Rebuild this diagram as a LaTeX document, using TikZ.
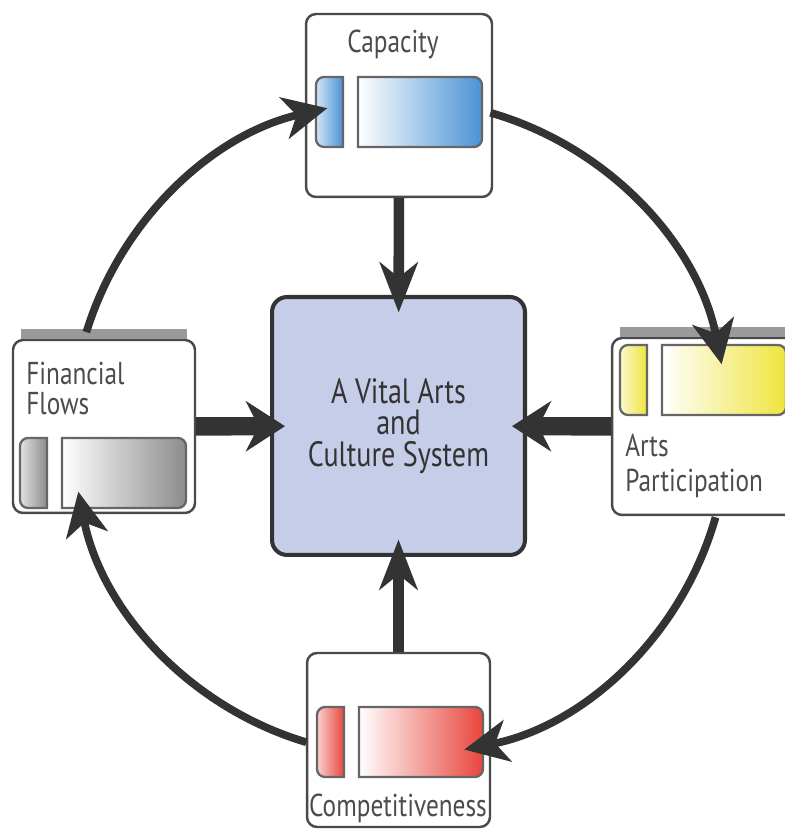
\documentclass[tikz,border=0pt]{standalone}
\usepackage{fontspec}
\usetikzlibrary{arrows.meta,calc}
\newfontfamily\labelfont[FakeStretch=0.8]{PT Sans}
\definecolor{ink}{HTML}{333333}
\definecolor{edge}{HTML}{4A4A4A}
\definecolor{band}{HTML}{9A9A9A}
\definecolor{hubfill}{HTML}{C6CDE8}
\definecolor{capblue}{HTML}{4A93D4}
\definecolor{partyellow}{HTML}{EEE43C}
\definecolor{compred}{HTML}{E8453C}
\definecolor{fingray}{HTML}{8C8C8C}
\tikzset{panel/.style={draw=edge,line width=1.4pt,rounded corners=.2cm,fill=white,inner sep=0pt},
hubbox/.style={draw=ink,line width=2.3pt,rounded corners=.3cm,fill=hubfill,inner sep=0pt,align=center,
  font=\labelfont\fontsize{20}{18}\selectfont,text=ink},
lab/.style={font=\labelfont\fontsize{18}{17}\selectfont,text=black!70,inner sep=0pt,align=left},
meterbar/.style={draw=black!60,line width=1.3pt},
topband/.style={band,line width=5.5pt},
vlink/.style={-{Stealth[length=1cm,width=.76cm,inset=.3cm]},line width=6pt,ink,shorten >=-.35cm},
hlink/.style={-{Stealth[length=.78cm,width=1cm,inset=.25cm]},line width=10.5pt,ink,shorten >=-.3cm},
roundarrow/.style={-{Stealth[length=.88cm,width=.84cm,inset=.25cm]},line width=4.4pt,ink}}
% two bars: short one rounded on the left, long one rounded on the right
\newcommand{\meter}[3]{%
\draw[meterbar,left color=#3!25,right color=#3] (#1+14,#2) [rounded corners=.16cm] -- (#1,#2) -- (#1,#2+70)
  -- (#1+14,#2+70) [sharp corners] -- (#1+27,#2+70) -- (#1+27,#2) -- cycle;
\draw[meterbar,left color=white,right color=#3] (#1+104,#2) [rounded corners=.16cm] -- (#1+166,#2) -- (#1+166,#2+70)
  -- (#1+104,#2+70) [sharp corners] -- (#1+42,#2+70) -- (#1+42,#2) -- cycle;}

\begin{document}
\begin{tikzpicture}[x=.02cm,y=.02cm]
\useasboundingbox[fill=white] (0,0) rectangle (784,831);
% the four outer panels and the hub
\node[panel,minimum width=3.72cm,minimum height=3.66cm] (cap) at (399,725.5) {};
\node[panel,minimum width=3.64cm,minimum height=3.46cm] (fin) at (104,404.5) {};
\node[panel,minimum width=3.68cm,minimum height=3.54cm] (arts) at (704,404.5) {};
\node[panel,minimum width=3.66cm,minimum height=3.48cm] (comp) at (398.5,91) {};
\draw[topband] ([xshift=.18cm,yshift=.1cm]fin.north west) -- ([xshift=-.18cm,yshift=.1cm]fin.north east);
\draw[topband] ([xshift=.18cm,yshift=.1cm]arts.north west) -- ([yshift=.1cm]arts.north east);
\node[hubbox,minimum width=5.06cm,minimum height=5.16cm] (vital) at (398.5,405) {A Vital Arts\\and\\Culture System};

\meter{316}{684}{capblue}
\meter{20}{323}{fingray}
\meter{620}{416}{partyellow}
\meter{317}{54}{compred}

\node[lab,anchor=base] (captext) at (393,778) {Capacity};
\node[lab,anchor=north west] (fintext) at (26,469) {Financial\\Flows};
\node[lab,anchor=north west] (artstext) at (625,397) {Arts\\[3pt]Participation};
\node[lab,anchor=base] (comptext) at (398,14) {Competitiveness};

% spokes into the hub
\draw[vlink] (cap) -- (vital);
\draw[vlink] (comp) -- (vital);
\draw[hlink] (fin) -- (vital);
\draw[hlink] (arts) -- (vital);

% clockwise ring
\coordinate (hub) at (400,403);
\coordinate (capout) at ($(hub)+(74:6.56cm)$);
\coordinate (artsout) at ($(hub)+(-15.8:6.56cm)$);
\coordinate (compout) at ($(hub)+(253.4:6.56cm)$);
\coordinate (finout) at ($(hub)+(163:6.56cm)$);
\draw[roundarrow] (capout) arc[start angle=74,end angle=11.2,radius=6.56cm];
\draw[roundarrow] (artsout) arc[start angle=-15.8,end angle=-78.7,radius=6.56cm];
\draw[roundarrow] (compout) arc[start angle=253.4,end angle=191.2,radius=6.56cm];
\draw[roundarrow] (finout) arc[start angle=163,end angle=102.8,radius=6.56cm];
\end{tikzpicture}
\end{document}
